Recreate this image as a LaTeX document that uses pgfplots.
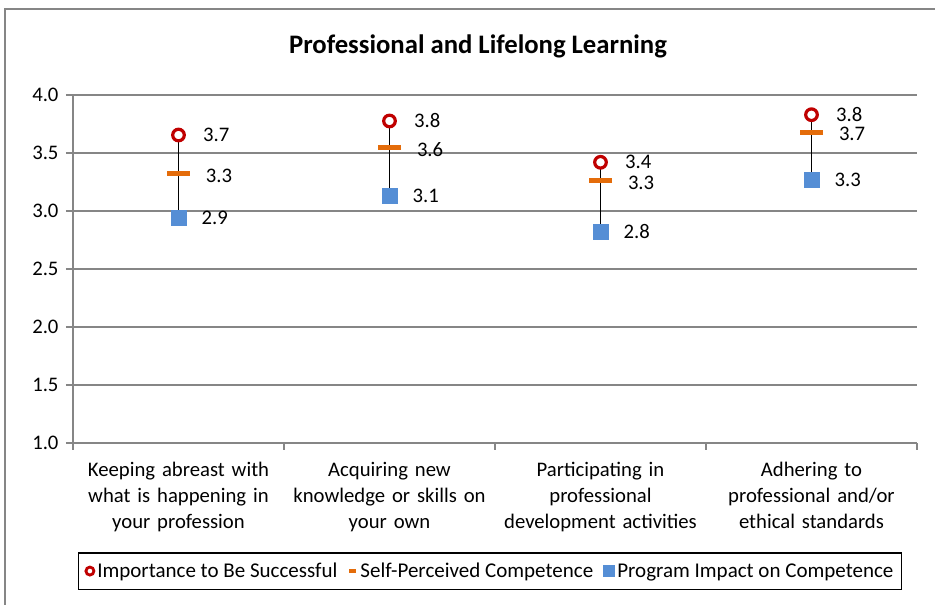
\documentclass[border=0pt]{standalone}
\usepackage{fontspec}
\setmainfont{Carlito}
\usepackage{pgfplots}
\usepackage{pgfplotstable}
\pgfplotsset{compat=1.18}
\definecolor{impred}{HTML}{C00000}
\definecolor{selforange}{HTML}{E46C0A}
\definecolor{progblue}{HTML}{558ED5}
\definecolor{gridgray}{HTML}{868686}

\pgfplotstableread{
x y lab
0.5 3.655 3.7
1.5 3.776 3.8
2.5 3.42 3.4
3.5 3.83 3.8
}\imp
\pgfplotstableread{
x y lab
0.5 3.32 3.3
1.5 3.55 3.6
2.5 3.26 3.3
3.5 3.68 3.7
}\self
\pgfplotstableread{
x y lab
0.5 2.94 2.9
1.5 3.13 3.1
2.5 2.82 2.8
3.5 3.27 3.3
}\prog

\begin{document}
\begin{tikzpicture}
\path[use as bounding box] (0pt,0pt) rectangle (935pt,605pt);
\draw[gridgray, line width=1.5pt] (5pt,0pt) -- (5pt,596pt) -- (935pt,596pt);
\node[font=\fontsize{26.7}{30}\selectfont\bfseries] at (478pt,559pt) {Professional and Lifelong Learning};
\begin{axis}[
  at={(73pt,162pt)}, anchor=south west,
  width=844pt, height=348pt, scale only axis,
  xmin=0, xmax=4, ymin=1, ymax=4,
  axis x line*=bottom, axis y line*=left,
  axis line style={-, gridgray, line width=1.5pt},
  ytick={1,1.5,...,4},
  y tick label style={/pgf/number format/fixed, /pgf/number format/fixed zerofill, /pgf/number format/precision=1, font=\fontsize{20.7}{24}\selectfont, xshift=-4pt},
  /pgf/number format/assume math mode=true,
  ymajorgrids, grid style={gridgray, line width=1.5pt},
  xtick={0,1,2,3,4}, xticklabels={},
  extra x ticks={0.5,1.5,2.5,3.5},
  extra x tick labels={{Keeping abreast with\\what is happening in\\your profession},
    {Acquiring new\\knowledge or skills on\\your own},
    {Participating in\\professional\\development activities},
    {Adhering to\\professional and/or\\ethical standards}},
  extra x tick style={major tick length=0pt, grid=none},
  x tick label style={align=center, text width=210pt, font=\fontsize{20.7}{26}\selectfont, yshift=-16pt},
  tick align=outside, major tick length=7pt,
  tick style={gridgray, line width=1.5pt},
  legend columns=3,
  legend style={at={(0.494,-0.368)}, anchor=center, draw=black, line width=1.2pt,
    font=\fontsize{21}{24}\selectfont, inner xsep=6pt, inner ysep=8pt,
    /tikz/every even column/.append style={column sep=8pt}},
  legend cell align=left,
  point meta=explicit symbolic,
  nodes near coords,
  every node near coord/.append style={font=\fontsize{20.7}{24}\selectfont, anchor=west, inner sep=0pt, text=black},
  clip=false,
]
\addplot[black, line width=1.5pt, forget plot, nodes near coords={}] coordinates {(0.5,3.655) (0.5,2.94)};
\addplot[black, line width=1.5pt, forget plot, nodes near coords={}] coordinates {(1.5,3.776) (1.5,3.13)};
\addplot[black, line width=1.5pt, forget plot, nodes near coords={}] coordinates {(2.5,3.42) (2.5,2.82)};
\addplot[black, line width=1.5pt, forget plot, nodes near coords={}] coordinates {(3.5,3.83) (3.5,3.27)};

\addplot[only marks, mark=*, mark size=5.8pt, mark options={draw=impred, fill=white, line width=3.2pt},
  every node near coord/.append style={xshift=23pt},
  legend image code/.code={\draw[draw=impred, fill=white, line width=2.8pt] (0.3em,0pt) circle (4pt);}]
  table[x=x, y=y, meta=lab] {\imp};
\addlegendentry{Importance to Be Successful}
\addplot[only marks, mark=-, mark size=11.5pt, mark options={draw=selforange, line width=5pt},
  every node near coord/.append style={xshift=25pt, yshift=-2pt},
  legend image code/.code={\draw[selforange, line width=4pt] (-0.1em,0pt) -- (0.6em,0pt);}]
  table[x=x, y=y, meta=lab] {\self};
\addlegendentry{Self-Perceived Competence}
\addplot[only marks, mark=square*, mark size=7.5pt, mark options={draw=progblue, fill=progblue},
  every node near coord/.append style={xshift=23pt},
  legend image code/.code={\fill[progblue] (-0.05em,-5.5pt) rectangle ++(11pt,11pt);}]
  table[x=x, y=y, meta=lab] {\prog};
\addlegendentry{Program Impact on Competence}
\end{axis}
\end{tikzpicture}
\end{document}
